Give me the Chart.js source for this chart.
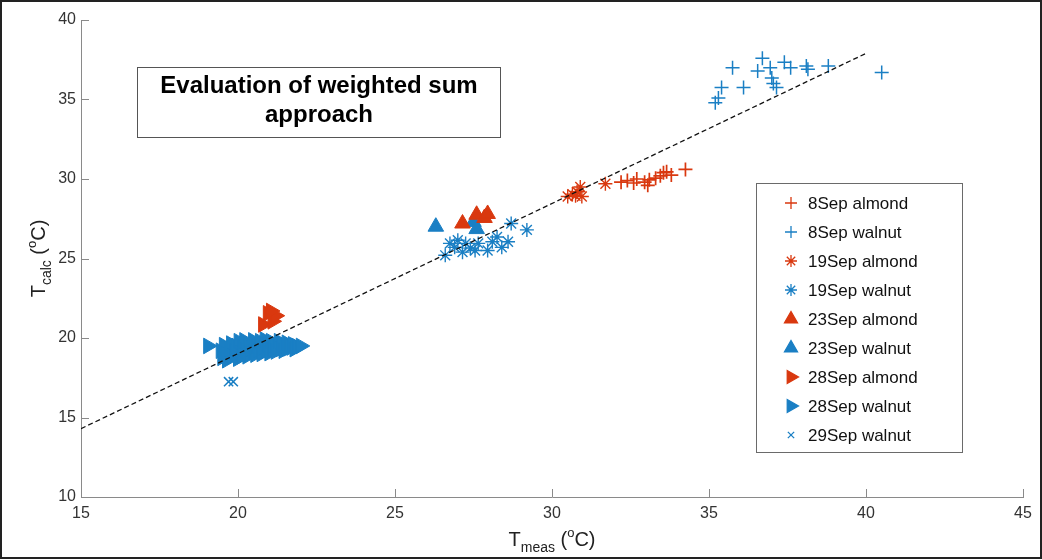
<!DOCTYPE html>
<html>
<head>
<meta charset="utf-8">
<script src="https://cdn.jsdelivr.net/npm/chart.js"></script>
<style>
  html, body { margin: 0; padding: 0; background: #fff; }
  #wrap { width: 1042px; height: 560px; }
</style>
</head>
<body>
<div id="wrap"><canvas id="chart" width="1042" height="560"></canvas></div>
<script>
// values, [Tmeas, Tcalc]
const sep8Almond = [[32.2,29.8],[32.4,29.9],[32.6,29.75],[32.7,30.0],[32.95,29.8],[33.05,29.6],[33.1,29.95],[33.3,30.05],[33.45,30.2],[33.55,30.4],[33.65,30.45],[33.8,30.25],[34.25,30.6]];
const sep8Walnut = [[35.2,34.8],[35.3,35.1],[35.4,35.75],[35.75,37.0],[36.1,35.75],[36.55,36.8],[36.7,37.6],[36.95,37.0],[37.0,36.35],[37.05,36.0],[37.15,35.75],[37.4,37.35],[37.6,37.0],[38.1,37.1],[38.15,36.9],[38.8,37.1],[40.5,36.7]];
const sep19Almond = [[30.5,28.9],[30.65,29.05],[30.8,29.2],[30.9,29.5],[30.95,28.9],[30.75,28.95],[31.7,29.7]];
const sep19Walnut = [[26.6,25.2],[26.75,25.95],[26.9,25.7],[27.0,26.15],[27.15,25.4],[27.25,25.95],[27.4,25.65],[27.55,25.5],[27.65,25.95],[27.95,25.5],[28.1,26.05],[28.25,26.35],[28.4,25.7],[28.6,26.05],[28.7,27.2],[29.2,26.8]];
const sep23Almond = [[27.15,27.2],[27.6,27.75],[27.85,27.55],[27.95,27.8]];
const sep23Walnut = [[26.3,27.0],[27.5,27.3],[27.6,26.85]];
const sep28Almond = [[20.8,20.85],[20.95,21.55],[21.1,21.05],[21.2,21.4],[21.05,21.7]];
const sep28Walnut = [[19.05,19.5],[19.45,19.2],[19.5,18.75],[19.55,19.55],[19.6,19.0],[19.65,18.6],[19.72,19.3],[19.78,19.65],[19.82,18.85],[19.9,19.15],[19.95,19.5],[20.0,18.7],[20.02,19.8],[20.08,19.05],[20.12,18.85],[20.15,19.4],[20.2,19.85],[20.25,19.2],[20.3,18.85],[20.32,19.6],[20.38,19.0],[20.42,19.35],[20.48,19.85],[20.5,19.1],[20.55,18.95],[20.6,19.5],[20.65,19.25],[20.7,19.8],[20.75,19.0],[20.8,19.4],[20.85,19.9],[20.9,19.2],[20.95,19.6],[21.0,19.05],[21.05,19.8],[21.1,19.3],[21.15,19.6],[21.2,19.15],[21.25,19.45],[21.3,19.8],[21.35,19.3],[21.4,19.6],[21.45,19.2],[21.5,19.5],[21.55,19.7],[21.6,19.35],[21.65,19.55],[21.7,19.4],[21.75,19.6],[21.8,19.3],[21.85,19.5],[21.9,19.45],[22.0,19.5]];
const sep29Walnut = [[19.7,17.25],[19.85,17.25]];
const fitLine = [[15,14.3],[40,37.9]];

const xTicks = [15, 20, 25, 30, 35, 40, 45];
const yTicks = [10, 15, 20, 25, 30, 35, 40];
const titleLines = ['Evaluation of weighted sum', 'approach'];

const RED = '#d9380f';
const BLUE = '#1a7fc4';
const FONT = "'Liberation Sans', Arial, sans-serif";

const pts = arr => arr.map(p => ({ x: p[0], y: p[1] }));

function series(label, data, style, color, radius, bw, rot) {
    return {
        label: label,
        data: pts(data),
        pointStyle: style,
        pointRadius: radius,
        pointHoverRadius: radius,
        pointBorderColor: color,
        pointBackgroundColor: color,
        pointBorderWidth: bw,
        pointRotation: rot || 0
    };
}

const datasets = [
    {
        label: 'fit',
        data: pts(fitLine),
        type: 'line',
        showLine: true,
        borderColor: '#111',
        borderWidth: 1.3,
        borderDash: [5, 3],
        pointRadius: 0,
        fill: false
    },
    series('8Sep almond', sep8Almond, 'cross', RED, 7, 1.7),
    series('8Sep walnut', sep8Walnut, 'cross', BLUE, 7, 1.5),
    series('19Sep almond', sep19Almond, 'star', RED, 7, 1.4),
    series('19Sep walnut', sep19Walnut, 'star', BLUE, 7, 1.4),
    series('23Sep almond', sep23Almond, 'triangle', RED, 9, 1),
    series('23Sep walnut', sep23Walnut, 'triangle', BLUE, 9, 1),
    series('28Sep almond', sep28Almond, 'triangle', RED, 9, 1, 90),
    series('28Sep walnut', sep28Walnut, 'triangle', BLUE, 9, 1, 90),
    series('29Sep walnut', sep29Walnut, 'crossRot', BLUE, 6.5, 1.5)
];

// little marker painter for the legend box
function marker(ctx, ds, x, y) {
    const r = ds.pointStyle === 'crossRot' ? 4.5 : (ds.pointStyle.indexOf('tri') === 0 ? 7.5 : 6);
    ctx.save();
    ctx.translate(x, y);
    ctx.strokeStyle = ds.pointBorderColor;
    ctx.fillStyle = ds.pointBackgroundColor;
    ctx.lineWidth = 1.3;
    ctx.beginPath();
    if (ds.pointStyle === 'cross' || ds.pointStyle === 'star') {
        ctx.moveTo(-r, 0); ctx.lineTo(r, 0);
        ctx.moveTo(0, -r); ctx.lineTo(0, r);
    }
    if (ds.pointStyle === 'crossRot' || ds.pointStyle === 'star') {
        const d = r * 0.7;
        ctx.moveTo(-d, -d); ctx.lineTo(d, d);
        ctx.moveTo(-d, d); ctx.lineTo(d, -d);
    }
    if (ds.pointStyle === 'triangle') {
        ctx.rotate((ds.pointRotation || 0) * Math.PI / 180);
        ctx.moveTo(0, -r);
        ctx.lineTo(r * 0.866, r * 0.5);
        ctx.lineTo(-r * 0.866, r * 0.5);
        ctx.closePath();
        ctx.fill();
    }
    ctx.stroke();
    ctx.restore();
}

function richText(ctx, parts, x, y) {
    let cx = x;
    parts.forEach(p => {
        ctx.font = p.size + 'px ' + FONT;
        ctx.fillText(p.t, cx, y + (p.dy || 0));
        cx += ctx.measureText(p.t).width;
    });
    return cx - x;
}

function measureRich(ctx, parts) {
    let w = 0;
    parts.forEach(p => { ctx.font = p.size + 'px ' + FONT; w += ctx.measureText(p.t).width; });
    return w;
}

const decor = {
    id: 'decor',
    beforeDraw(chart) {
        const ctx = chart.ctx;
        ctx.save();
        ctx.fillStyle = '#fff';
        ctx.fillRect(0, 0, chart.width, chart.height);
        ctx.restore();
    },
    afterDraw(chart) {
        const ctx = chart.ctx;
        const xs = chart.scales.x, ys = chart.scales.y;
        const a = chart.chartArea;
        ctx.save();

        // inward ticks
        ctx.strokeStyle = '#8a8a8a';
        ctx.lineWidth = 1;
        ctx.beginPath();
        xTicks.forEach(v => {
            const px = Math.round(xs.getPixelForValue(v)) + 0.5;
            ctx.moveTo(px, a.bottom); ctx.lineTo(px, a.bottom - 8);
        });
        yTicks.forEach(v => {
            const py = Math.round(ys.getPixelForValue(v)) + 0.5;
            ctx.moveTo(a.left, py); ctx.lineTo(a.left + 8, py);
        });
        ctx.stroke();

        // title box
        ctx.fillStyle = '#fff';
        ctx.fillRect(137, 67, 363, 70);
        ctx.strokeStyle = '#555';
        ctx.strokeRect(137.5, 67.5, 363, 70);
        ctx.fillStyle = '#000';
        ctx.font = 'bold 24px ' + FONT;
        ctx.textAlign = 'center';
        ctx.textBaseline = 'middle';
        ctx.fillText(titleLines[0], 319, 86);
        ctx.fillText(titleLines[1], 319, 115);

        // legend box
        ctx.fillStyle = '#fff';
        ctx.fillRect(756, 183, 206, 269);
        ctx.strokeStyle = '#6a6a6a';
        ctx.strokeRect(756.5, 183.5, 206, 269);
        ctx.textAlign = 'left';
        chart.data.datasets.slice(1).forEach((ds, i) => {
            const y = 203 + i * 29;
            marker(ctx, ds, 791, y);
            ctx.fillStyle = '#111';
            ctx.font = '17px ' + FONT;
            ctx.fillText(ds.label, 808, y + 1);
        });

        // axis titles
        ctx.fillStyle = '#222';
        ctx.textBaseline = 'alphabetic';
        const xt = [{ t: 'T', size: 20 }, { t: 'meas', size: 14, dy: 6 }, { t: ' (', size: 20 }, { t: 'o', size: 13, dy: -9 }, { t: 'C)', size: 20 }];
        const wx = measureRich(ctx, xt);
        richText(ctx, xt, (a.left + a.right) / 2 - wx / 2, 546);

        const yt = [{ t: 'T', size: 20 }, { t: 'calc', size: 14, dy: 6 }, { t: ' (', size: 20 }, { t: 'o', size: 13, dy: -9 }, { t: 'C)', size: 20 }];
        const wy = measureRich(ctx, yt);
        ctx.translate(45, (a.top + a.bottom) / 2);
        ctx.rotate(-Math.PI / 2);
        richText(ctx, yt, -wy / 2, 0);
        ctx.restore();

        // outer frame
        ctx.save();
        ctx.strokeStyle = '#222';
        ctx.lineWidth = 2;
        ctx.strokeRect(1, 1, chart.width - 2, chart.height - 3);
        ctx.restore();
    }
};

new Chart(document.getElementById('chart'), {
    type: 'scatter',
    data: { datasets: datasets },
    options: {
        responsive: false,
        animation: false,
        devicePixelRatio: 1,
        layout: { padding: { top: 20, right: 19, left: 0, bottom: 0 } },
        plugins: { legend: { display: false }, tooltip: { enabled: false } },
        scales: {
            x: {
                type: 'linear',
                min: 15, max: 45,
                afterBuildTicks: s => { s.ticks = xTicks.map(v => ({ value: v })); },
                afterFit: s => { s.height = 63; },
                grid: { display: false, drawTicks: false },
                border: { display: true, color: '#8a8a8a', width: 1 },
                ticks: { padding: 7, color: '#333', font: { family: FONT, size: 16 } }
            },
            y: {
                type: 'linear',
                min: 10, max: 40,
                afterBuildTicks: s => { s.ticks = yTicks.map(v => ({ value: v })); },
                afterFit: s => { s.width = 81; },
                grid: { display: false, drawTicks: false },
                border: { display: true, color: '#8a8a8a', width: 1 },
                ticks: { padding: 5, color: '#333', font: { family: FONT, size: 16 } }
            }
        }
    },
    plugins: [decor]
});
</script>
</body>
</html>
